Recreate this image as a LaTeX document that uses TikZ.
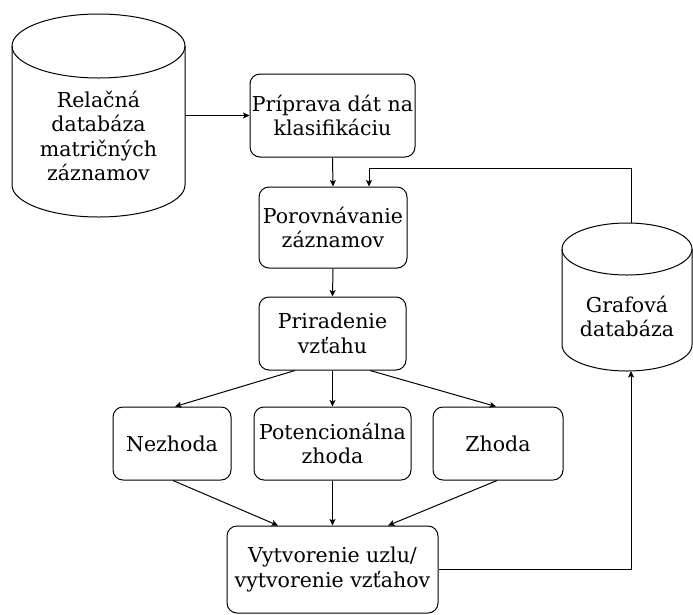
\documentclass[tikz,border=0pt]{standalone}
\usepackage{fontspec}
\setmainfont{DejaVu Serif}
\usetikzlibrary{arrows.meta}
\begin{document}
\begin{tikzpicture}[x=1pt,y=-1pt,
  every node/.style={font=\fontsize{20.5}{24.6}\selectfont, align=center, inner sep=0pt},
  procbox/.style={draw, line width=1pt, rounded corners=10pt},
  ln/.style={line width=1pt},
  arr/.style={ln, -{Stealth[length=6.5pt,width=6pt,inset=1.5pt]}}]
\useasboundingbox (0,0) rectangle (693,614);
% relational database cylinder
\draw[ln] (12,46) -- (12,185) arc[start angle=180,end angle=360,x radius=86.5pt,y radius=32pt]
  -- (185,46) arc[start angle=0,end angle=180,x radius=86.5pt,y radius=32pt] -- cycle;
\draw[ln] (12,46) arc[start angle=180,end angle=360,x radius=86.5pt,y radius=32pt];
\node[minimum width=173pt] (rel) at (98.5,136) {Relačná\\databáza\\matričných\\záznamov};
% graph database cylinder
\draw[ln] (562,249) -- (562,345) arc[start angle=180,end angle=360,x radius=65pt,y radius=26pt]
  -- (692,249) arc[start angle=0,end angle=180,x radius=65pt,y radius=26pt] -- cycle;
\draw[ln] (562,249) arc[start angle=180,end angle=360,x radius=65pt,y radius=26pt];
\node[minimum width=130pt] (gdb) at (627,316.5) {Grafová\\databáza};
\coordinate (gtop) at (631,223);
\coordinate (gbot) at (631,371);
% process boxes
\node[procbox, minimum width=165pt, minimum height=83pt] (prep) at (332.5,115.5) {Príprava dát na\\klasifikáciu};
\node[procbox, minimum width=148pt, minimum height=81pt] (por) at (333,227.5) {Porovnávanie\\záznamov};
\node[procbox, minimum width=147pt, minimum height=73pt] (prir) at (332.5,333.5) {Priradenie\\vzťahu};
\node[procbox, minimum width=118pt, minimum height=73pt] (nez) at (172,443.5) {Nezhoda};
\node[procbox, minimum width=157pt, minimum height=73pt] (pot) at (332.5,443.5) {Potencionálna\\zhoda};
\node[procbox, minimum width=130pt, minimum height=73pt] (zh) at (498,443.5) {Zhoda};
\node[procbox, minimum width=211pt, minimum height=87pt] (vyt) at (332.5,569.5) {Vytvorenie uzlu/\\vytvorenie vzťahov};
% connectors
\draw[arr] (rel.east |- prep.west) -- (prep.west);
\draw[arr] (prep.south) -- (por.north);
\draw[arr] (gtop) -- ++(0,-55) -| ([xshift=36pt]por.north);
\draw[arr] (por.south) -- (prir.north);
\draw[arr] ([xshift=-37.5pt]prir.south) -- ([xshift=3pt]nez.north);
\draw[arr] (prir.south) -- (pot.north);
\draw[arr] ([xshift=37.5pt]prir.south) -- ([xshift=-2pt]zh.north);
\draw[arr] ([xshift=1pt]nez.south) -- ([xshift=-54.5pt]vyt.north);
\draw[arr] (pot.south) -- (vyt.north);
\draw[arr] ([xshift=-1pt]zh.south) -- ([xshift=55.5pt]vyt.north);
\draw[arr] (vyt.east) -| (gbot);
\end{tikzpicture}
\end{document}
